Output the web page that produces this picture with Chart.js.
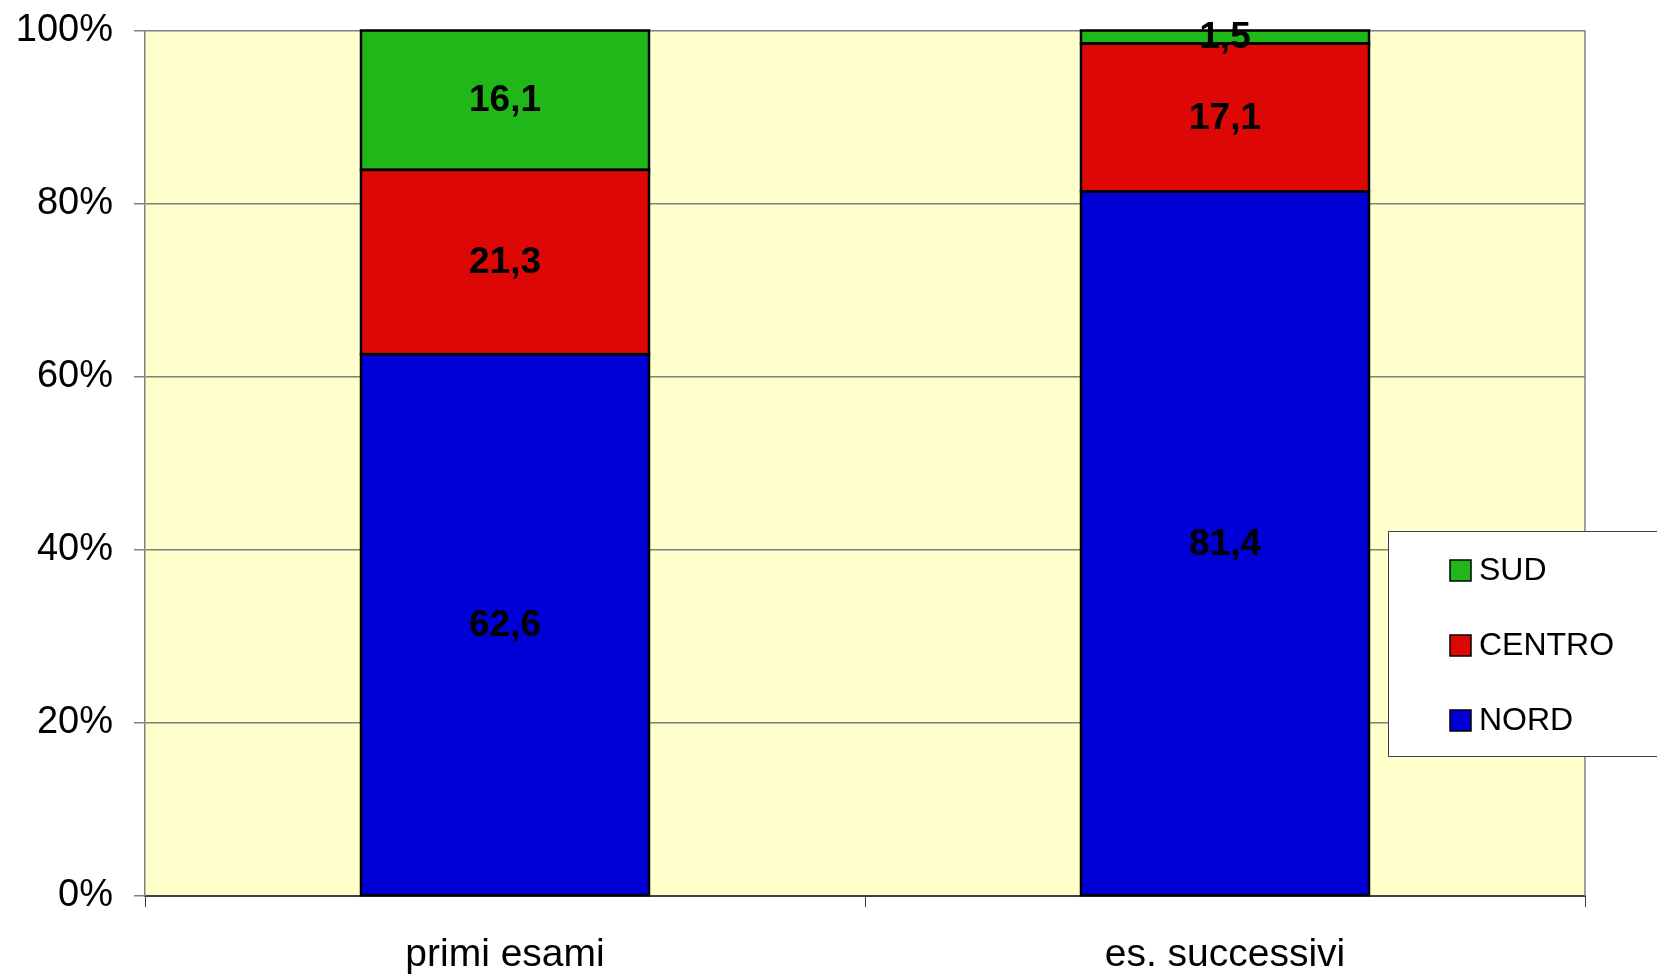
<!DOCTYPE html>
<html>
<head>
<meta charset="utf-8">
<script src="https://cdn.jsdelivr.net/npm/chart.js@4/dist/chart.umd.min.js"></script>
<style>
  html, body { margin: 0; padding: 0; background: #fff; }
  #wrap { width: 1657px; height: 974px; }
</style>
</head>
<body>
<div id="wrap"><canvas id="c" width="1657" height="974"></canvas></div>
<script>
// data
var categories = ['primi esami', 'es. successivi'];
var nord = [62.6, 81.4];
var centro = [21.3, 17.1];
var sud = [16.1, 1.5];
var yTicks = [0, 20, 40, 60, 80, 100];

var FONT = '"Liberation Sans", Arial, sans-serif';

//plot background + right border
var plotBg = {
	id: 'plotBg',
	beforeDraw: function (chart) {
		var a = chart.chartArea, ctx = chart.ctx;
		ctx.save();
		ctx.fillStyle = '#FFFFCC';
		ctx.fillRect(a.left, a.top, a.right - a.left, a.bottom - a.top);
		ctx.restore();
	},
	afterDatasetsDraw: function (chart) {
		var a = chart.chartArea, ctx = chart.ctx;
		ctx.save();
		ctx.strokeStyle = '#808080';
		ctx.lineWidth = 1.5;
		ctx.beginPath();
		ctx.moveTo(a.right, a.top);
		ctx.lineTo(a.right, a.bottom);
		ctx.stroke();
		ctx.restore();
	}
};

//black outline of each segment, values in the middle
var segLabels = {
	id: 'segLabels',
	afterDatasetsDraw: function (chart) {
		var ctx = chart.ctx;
		ctx.save();
		ctx.strokeStyle = '#000';
		ctx.lineWidth = 2.5;
		chart.data.datasets.forEach(function (ds, i) {
			chart.getDatasetMeta(i).data.forEach(function (bar) {
				ctx.strokeRect(bar.x - bar.width / 2, bar.y, bar.width, bar.base - bar.y);
			});
		});
		ctx.font = 'bold 37px ' + FONT;
		ctx.fillStyle = '#000';
		ctx.textAlign = 'center';
		ctx.textBaseline = 'middle';
		chart.data.datasets.forEach(function (ds, i) {
			chart.getDatasetMeta(i).data.forEach(function (bar, j) {
				var txt = ds.data[j].toFixed(1).replace('.', ',');
				ctx.fillText(txt, bar.x, (bar.y + bar.base) / 2 + 1);
			});
		});
		ctx.restore();
	}
};

//legend box, overlapping the plot on the right
var boxLegend = {
	id: 'boxLegend',
	afterDraw: function (chart) {
		var ctx = chart.ctx;
		var ds = chart.data.datasets.slice().reverse();
		ctx.save();
		ctx.fillStyle = '#fff';
		ctx.fillRect(1388, 531, 280, 225);
		ctx.strokeStyle = '#404040';
		ctx.lineWidth = 1;
		ctx.strokeRect(1388.5, 531.5, 280, 225);
		ctx.font = '32px ' + FONT;
		ctx.textBaseline = 'middle';
		ds.forEach(function (d, i) {
			var cy = 570 + i * 75;
			ctx.fillStyle = d.backgroundColor;
			ctx.fillRect(1450, cy - 10, 21, 21);
			ctx.strokeStyle = '#000';
			ctx.lineWidth = 1.5;
			ctx.strokeRect(1450, cy - 10, 21, 21);
			ctx.fillStyle = '#000';
			ctx.fillText(d.label, 1479, cy + 1);
		});
		ctx.restore();
	}
};

new Chart(document.getElementById('c'), {
	type: 'bar',
	data: {
		labels: categories,
		datasets: [
			{ label: 'NORD', data: nord, backgroundColor: '#0000D6' },
			{ label: 'CENTRO', data: centro, backgroundColor: '#DD0806' },
			{ label: 'SUD', data: sud, backgroundColor: '#20B718' }
		]
	},
	options: {
		responsive: false,
		animation: false,
		layout: { padding: { left: 0, top: 29, right: 72, bottom: 0 } },
		datasets: {
			bar: {
				categoryPercentage: 1,
				barPercentage: 0.4,
				borderWidth: 0
			}
		},
		plugins: {
			legend: { display: false },
			tooltip: { enabled: false }
		},
		scales: {
			x: {
				stacked: true,
				afterFit: function (s) { s.height = 78; },
				grid: { drawOnChartArea: false, offset: true, tickLength: 11, color: '#404040', lineWidth: 1 },
				border: { color: '#404040', width: 2 },
				ticks: { color: '#000', font: { family: FONT, size: 39 }, padding: 25 }
			},
			y: {
				stacked: true,
				min: 0,
				max: 100,
				afterFit: function (s) { s.width = 145; },
				afterBuildTicks: function (s) {
					s.ticks = yTicks.map(function (v) { return { value: v }; });
				},
				grid: { color: '#808080', lineWidth: 1.5, tickLength: 11 },
				border: { color: '#808080', width: 1.5 },
				ticks: {
					color: '#000',
					padding: 21,
					font: { family: FONT, size: 38, lineHeight: 0.5 },
					callback: function (v) { return v + '%'; }
				}
			}
		}
	},
	plugins: [plotBg, segLabels, boxLegend]
});
</script>
</body>
</html>
